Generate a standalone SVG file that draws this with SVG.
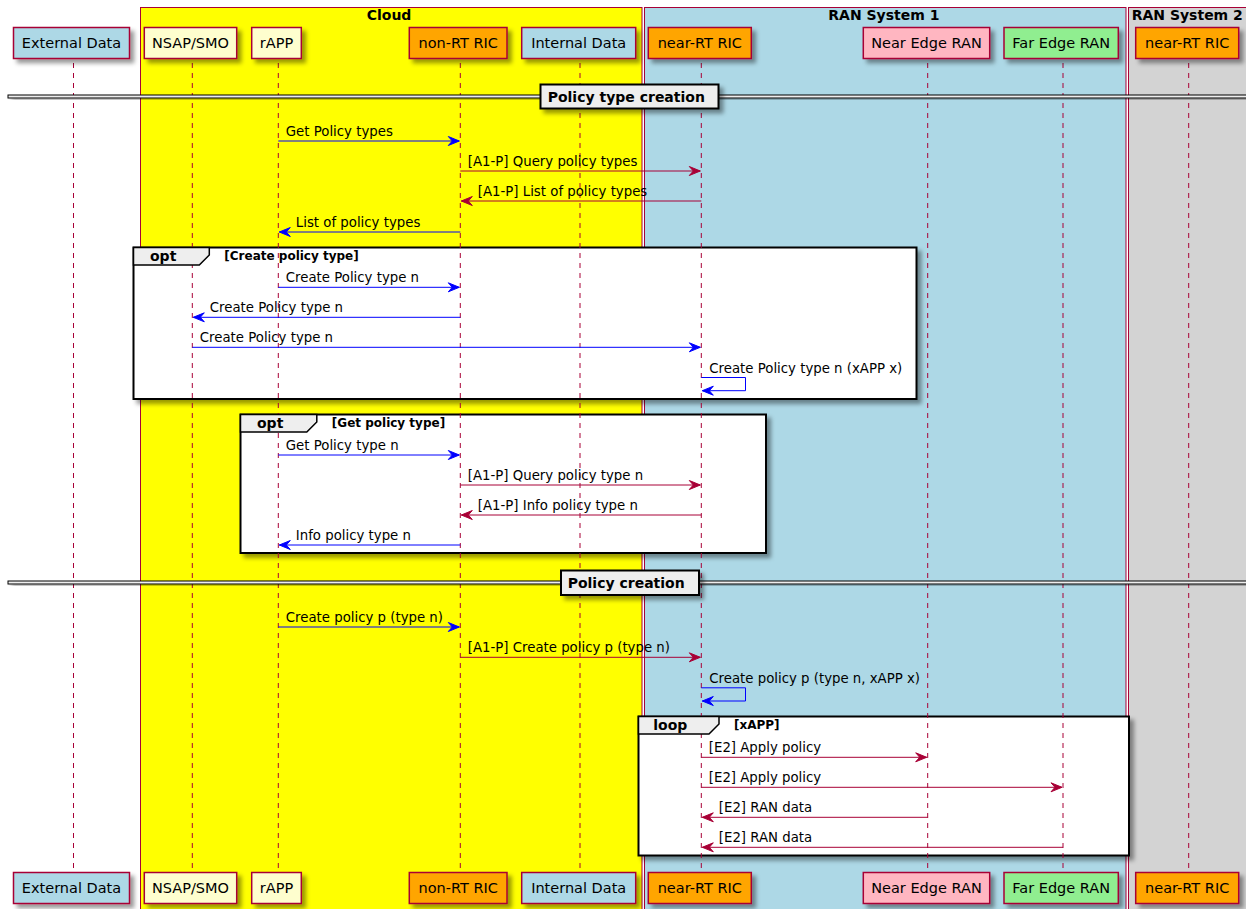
<svg xmlns="http://www.w3.org/2000/svg" width="1246" height="909" viewBox="0 0 1246 909">
  <defs>
    <filter id="shadow" x="-0.2" y="-0.2" width="1.5" height="1.8">
      <feGaussianBlur in="SourceAlpha" stdDeviation="2" result="b"/>
      <feColorMatrix in="b" type="matrix" values="0 0 0 0 0  0 0 0 0 0  0 0 0 0 0  0 0 0 0.4 0" result="b2"/>
      <feOffset in="b2" dx="4" dy="4" result="b3"/>
      <feMerge><feMergeNode in="b3"/><feMergeNode in="SourceGraphic"/></feMerge>
    </filter>
    <marker id="arrow-blue" viewBox="0 0 13 11" refX="12" refY="5.5" markerWidth="13" markerHeight="11" markerUnits="userSpaceOnUse" orient="auto">
      <polygon points="1,1 12,5.5 1,10 5,5.5" fill="#0000FF" stroke="#0000FF" stroke-width="1"/>
    </marker>
    <marker id="arrow-red" viewBox="0 0 13 11" refX="12" refY="5.5" markerWidth="13" markerHeight="11" markerUnits="userSpaceOnUse" orient="auto">
      <polygon points="1,1 12,5.5 1,10 5,5.5" fill="#A80036" stroke="#A80036" stroke-width="1"/>
    </marker>
  </defs>
  <style>
    text { font-family: "DejaVu Sans", "Noto Sans", sans-serif; fill: #000; }
    .box { stroke: #A80036; stroke-width: 1; }
    .box-title { font-size: 14px; font-weight: bold; }
    .frame { fill: #FFFFFF; stroke: #000; stroke-width: 2; filter: url(#shadow); }
    .tab { fill: #EEEEEE; stroke: #000; stroke-width: 1.5; }
    .frame-kind { font-size: 14px; font-weight: bold; }
    .frame-cond { font-size: 12px; font-weight: bold; }
    .lifeline { stroke: #A80036; stroke-width: 1; stroke-dasharray: 5,5; fill: none; }
    .head { stroke: #A80036; stroke-width: 1.5; filter: url(#shadow); }
    .head-label { font-size: 14.5px; text-anchor: middle; }
    .sep-line { fill: #EEEEEE; stroke: #000; stroke-width: 1; filter: url(#shadow); }
    .sep-box { fill: #EEEEEE; stroke: #000; stroke-width: 2; filter: url(#shadow); }
    .sep-label { font-size: 14px; font-weight: bold; }
    .msg-blue { stroke: #0000FF; stroke-width: 1; fill: none; marker-end: url(#arrow-blue); }
    .msg-red { stroke: #A80036; stroke-width: 1; fill: none; marker-end: url(#arrow-red); }
    .msg-label { font-size: 13.3px; }
    .c-light { fill: #FEFECE; }
    .c-blue { fill: #ADD8E6; }
    .c-orange { fill: #FFA500; }
    .c-pink { fill: #FFB6C1; }
    .c-green { fill: #90EE90; }
  </style>

  <rect x="0" y="0" width="1246" height="909" fill="#FFFFFF"/>

  <!-- participant boxes -->
  <g id="box-cloud">
    <rect class="box" x="140.5" y="7.5" width="501.5" height="910" fill="#FFFF00"/>
    <text class="box-title" x="366.7" y="20">Cloud</text>
  </g>
  <g id="box-ran1">
    <rect class="box" x="644.5" y="7.5" width="481.5" height="910" fill="#ADD8E6"/>
    <text class="box-title" x="828.3" y="20">RAN System 1</text>
  </g>
  <g id="box-ran2">
    <rect class="box" x="1128.5" y="7.5" width="130" height="910" fill="#D3D3D3"/>
    <text class="box-title" x="1131.7" y="20">RAN System 2</text>
  </g>

  <!-- combined fragment frames (body) -->
  <g id="frame-opt-create">
    <rect class="frame" x="133.5" y="247.5" width="783" height="151.5"/>
  </g>
  <g id="frame-opt-get">
    <rect class="frame" x="240.5" y="414.5" width="525.5" height="138.5"/>
  </g>
  <g id="frame-loop">
    <rect class="frame" x="638.5" y="716.5" width="490.5" height="139"/>
  </g>

  <!-- lifelines -->
  <g id="lifelines">
    <line class="lifeline" x1="73.5" y1="63" x2="73.5" y2="869"/>
    <line class="lifeline" x1="192.3" y1="63" x2="192.3" y2="869"/>
    <line class="lifeline" x1="278.3" y1="63" x2="278.3" y2="869"/>
    <line class="lifeline" x1="460.3" y1="63" x2="460.3" y2="869"/>
    <line class="lifeline" x1="580" y1="63" x2="580" y2="869"/>
    <line class="lifeline" x1="701.3" y1="63" x2="701.3" y2="869"/>
    <line class="lifeline" x1="927.7" y1="63" x2="927.7" y2="869"/>
    <line class="lifeline" x1="1063" y1="63" x2="1063" y2="869"/>
    <line class="lifeline" x1="1188.7" y1="63" x2="1188.7" y2="869"/>
  </g>

  <!-- fragment tabs and guards -->
  <g id="frame-opt-create-tab">
    <polygon class="tab" points="133.5,247.5 209.3,247.5 209.3,255 199.3,265 133.5,265"/>
    <text class="frame-kind" x="150" y="260.5">opt</text>
    <text class="frame-cond" x="224.3" y="260">[Create policy type]</text>
  </g>
  <g id="frame-opt-get-tab">
    <polygon class="tab" points="240.5,414.5 316.8,414.5 316.8,422 306.8,432 240.5,432"/>
    <text class="frame-kind" x="257" y="427.5">opt</text>
    <text class="frame-cond" x="331.8" y="427">[Get policy type]</text>
  </g>
  <g id="frame-loop-tab">
    <polygon class="tab" points="638.5,716.5 719,716.5 719,724 709,734 638.5,734"/>
    <text class="frame-kind" x="653.3" y="729.5">loop</text>
    <text class="frame-cond" x="734" y="729">[xAPP]</text>
  </g>

  <!-- participants: head and foot -->
  <g id="external-data">
    <rect class="head c-blue" x="13.5" y="27.5" width="116" height="31"/>
    <text class="head-label" x="71.5" y="48">External Data</text>
    <rect class="head c-blue" x="13.5" y="872.5" width="116" height="31"/>
    <text class="head-label" x="71.5" y="893">External Data</text>
  </g>
  <g id="nsap-smo">
    <rect class="head c-light" x="144.3" y="27.5" width="92.4" height="31"/>
    <text class="head-label" x="190.5" y="48">NSAP/SMO</text>
    <rect class="head c-light" x="144.3" y="872.5" width="92.4" height="31"/>
    <text class="head-label" x="190.5" y="893">NSAP/SMO</text>
  </g>
  <g id="rapp">
    <rect class="head c-light" x="251.7" y="27.5" width="49.6" height="31"/>
    <text class="head-label" x="276.5" y="48">rAPP</text>
    <rect class="head c-light" x="251.7" y="872.5" width="49.6" height="31"/>
    <text class="head-label" x="276.5" y="893">rAPP</text>
  </g>
  <g id="non-rt-ric">
    <rect class="head c-orange" x="409.3" y="27.5" width="97.7" height="31"/>
    <text class="head-label" x="458.2" y="48">non-RT RIC</text>
    <rect class="head c-orange" x="409.3" y="872.5" width="97.7" height="31"/>
    <text class="head-label" x="458.2" y="893">non-RT RIC</text>
  </g>
  <g id="internal-data">
    <rect class="head c-blue" x="521.7" y="27.5" width="114" height="31"/>
    <text class="head-label" x="578.7" y="48">Internal Data</text>
    <rect class="head c-blue" x="521.7" y="872.5" width="114" height="31"/>
    <text class="head-label" x="578.7" y="893">Internal Data</text>
  </g>
  <g id="near-rt-ric">
    <rect class="head c-orange" x="648.3" y="27.5" width="103" height="31"/>
    <text class="head-label" x="699.8" y="48">near-RT RIC</text>
    <rect class="head c-orange" x="648.3" y="872.5" width="103" height="31"/>
    <text class="head-label" x="699.8" y="893">near-RT RIC</text>
  </g>
  <g id="near-edge-ran">
    <rect class="head c-pink" x="863.3" y="27.5" width="126.4" height="31"/>
    <text class="head-label" x="926.5" y="48">Near Edge RAN</text>
    <rect class="head c-pink" x="863.3" y="872.5" width="126.4" height="31"/>
    <text class="head-label" x="926.5" y="893">Near Edge RAN</text>
  </g>
  <g id="far-edge-ran">
    <rect class="head c-green" x="1004" y="27.5" width="114.3" height="31"/>
    <text class="head-label" x="1061.2" y="48">Far Edge RAN</text>
    <rect class="head c-green" x="1004" y="872.5" width="114.3" height="31"/>
    <text class="head-label" x="1061.2" y="893">Far Edge RAN</text>
  </g>
  <g id="near-rt-ric-2">
    <rect class="head c-orange" x="1135.7" y="27.5" width="103" height="31"/>
    <text class="head-label" x="1187.2" y="48">near-RT RIC</text>
    <rect class="head c-orange" x="1135.7" y="872.5" width="103" height="31"/>
    <text class="head-label" x="1187.2" y="893">near-RT RIC</text>
  </g>

  <!-- section dividers -->
  <g id="divider-policy-type-creation">
    <rect class="sep-line" x="8" y="95" width="1250" height="3"/>
    <rect class="sep-box" x="540.5" y="84.5" width="178" height="24"/>
    <text class="sep-label" x="547.7" y="101.5">Policy type creation</text>
  </g>
  <g id="divider-policy-creation">
    <rect class="sep-line" x="8" y="581" width="1250" height="3"/>
    <rect class="sep-box" x="561" y="570.5" width="138" height="24.5"/>
    <text class="sep-label" x="567.7" y="587.5">Policy creation</text>
  </g>

  <!-- messages -->
  <g id="connectors">
    <line class="msg-blue" x1="278.3" y1="141" x2="459.3" y2="141"/>
    <text class="msg-label" x="285.8" y="136">Get Policy types</text>

    <line class="msg-red" x1="460.3" y1="171" x2="700.3" y2="171"/>
    <text class="msg-label" x="467.8" y="166">[A1-P] Query policy types</text>

    <line class="msg-red" x1="701.3" y1="201" x2="461.3" y2="201"/>
    <text class="msg-label" x="477.8" y="196">[A1-P] List of policy types</text>

    <line class="msg-blue" x1="460.3" y1="232" x2="279.3" y2="232"/>
    <text class="msg-label" x="295.8" y="227">List of policy types</text>

    <line class="msg-blue" x1="278.3" y1="287.3" x2="459.3" y2="287.3"/>
    <text class="msg-label" x="285.8" y="282.3">Create Policy type n</text>

    <line class="msg-blue" x1="460.3" y1="317.3" x2="193.3" y2="317.3"/>
    <text class="msg-label" x="209.8" y="312.3">Create Policy type n</text>

    <line class="msg-blue" x1="192.3" y1="347.3" x2="700.3" y2="347.3"/>
    <text class="msg-label" x="199.8" y="342.3">Create Policy type n</text>

    <path class="msg-blue" d="M701.3,377.5 H745.5 V390.7 H702.3"/>
    <text class="msg-label" x="709.3" y="372.7">Create Policy type n (xAPP x)</text>

    <line class="msg-blue" x1="278.3" y1="455" x2="459.3" y2="455"/>
    <text class="msg-label" x="285.8" y="450">Get Policy type n</text>

    <line class="msg-red" x1="460.3" y1="485" x2="700.3" y2="485"/>
    <text class="msg-label" x="467.8" y="480">[A1-P] Query policy type n</text>

    <line class="msg-red" x1="701.3" y1="515" x2="461.3" y2="515"/>
    <text class="msg-label" x="477.8" y="510">[A1-P] Info policy type n</text>

    <line class="msg-blue" x1="460.3" y1="545" x2="279.3" y2="545"/>
    <text class="msg-label" x="295.8" y="540">Info policy type n</text>

    <line class="msg-blue" x1="278.3" y1="627" x2="459.3" y2="627"/>
    <text class="msg-label" x="285.8" y="622">Create policy p (type n)</text>

    <line class="msg-red" x1="460.3" y1="657.3" x2="700.3" y2="657.3"/>
    <text class="msg-label" x="467.8" y="652.3">[A1-P] Create policy p (type n)</text>

    <path class="msg-blue" d="M701.3,687.8 H745.5 V701 H702.3"/>
    <text class="msg-label" x="709.3" y="682.5">Create policy p (type n, xAPP x)</text>

    <line class="msg-red" x1="701.3" y1="757.3" x2="926.7" y2="757.3"/>
    <text class="msg-label" x="708.8" y="752.3">[E2] Apply policy</text>

    <line class="msg-red" x1="701.3" y1="787.3" x2="1062" y2="787.3"/>
    <text class="msg-label" x="708.8" y="782.3">[E2] Apply policy</text>

    <line class="msg-red" x1="927.7" y1="817.3" x2="702.3" y2="817.3"/>
    <text class="msg-label" x="718.8" y="812.3">[E2] RAN data</text>

    <line class="msg-red" x1="1063" y1="847.3" x2="702.3" y2="847.3"/>
    <text class="msg-label" x="718.8" y="842.3">[E2] RAN data</text>
  </g>
</svg>
